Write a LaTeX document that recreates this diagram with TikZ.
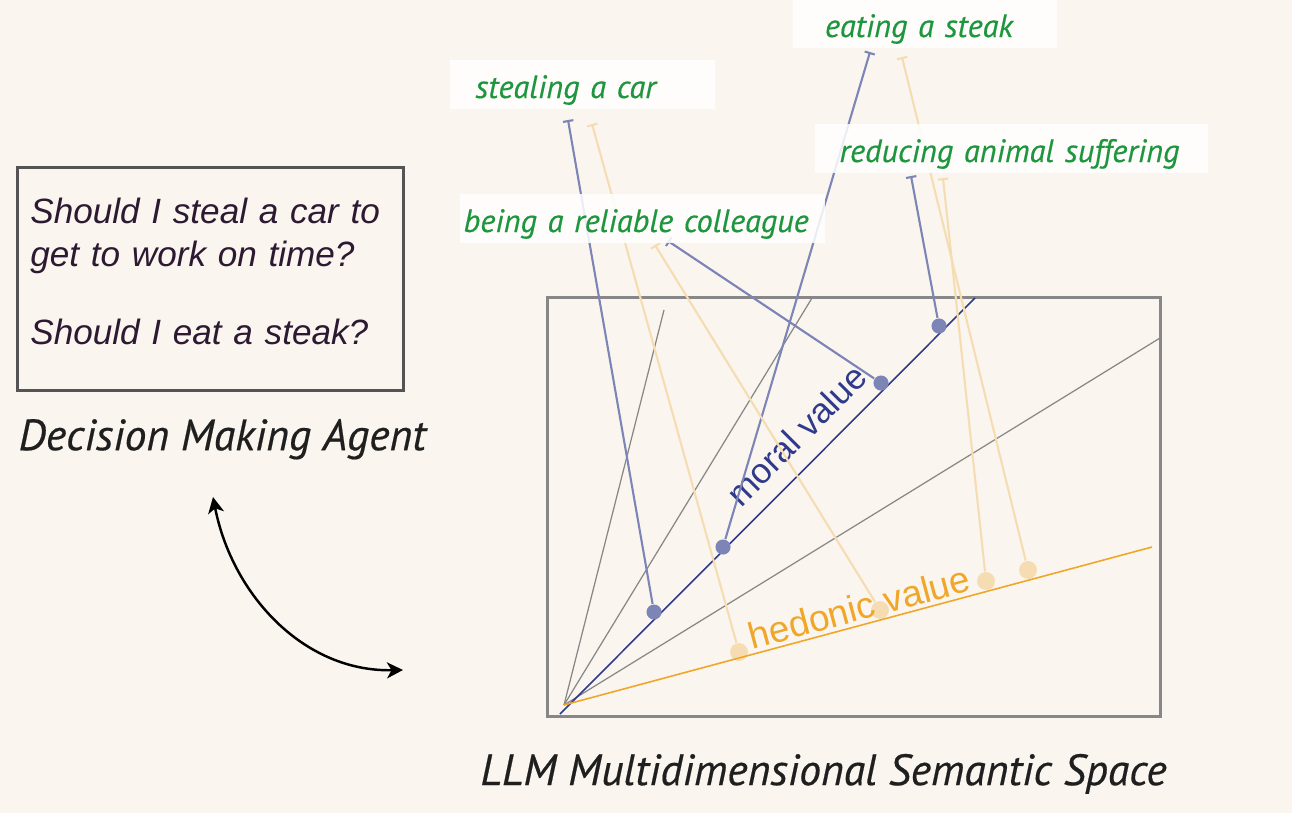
\documentclass[tikz,border=0pt]{standalone}
\usepackage{fontspec}
\setmainfont{Liberation Sans}
\newfontfamily\myriad{PT Sans}[FakeBold=0.4]
\usetikzlibrary{arrows.meta, positioning, calc}

\definecolor{paper}{RGB}{250,246,239}
\definecolor{leafgreen}{RGB}{30,150,62}
\definecolor{navy}{RGB}{48,58,140}
\definecolor{slate}{RGB}{125,133,182}
\definecolor{amber}{RGB}{240,166,40}
\definecolor{peach}{RGB}{246,220,178}
\definecolor{axisgray}{RGB}{135,135,135}
\definecolor{ink}{RGB}{45,26,50}

\begin{document}
\begin{tikzpicture}[
    x=0.1mm, y=-0.1mm,
    % --- STYLES ---
    question/.style={draw=black!67, line width=0.75pt, align=left, text width=36mm, inner xsep=1.3mm, minimum height=22.3mm, text=ink, font=\itshape\fontsize{10}{12.25}\selectfont},
    caption/.style={font=\myriad\itshape\fontsize{12.45}{14}\selectfont, text=black!88},
    concept/.style={fill=white, fill opacity=0.85, text opacity=1, text=leafgreen, align=left, minimum height=4.9mm, inner ysep=0.5mm, text height=2.8mm, text depth=0pt, font=\myriad\itshape\fontsize{9.2}{11}\selectfont},
    spacebox/.style={draw=axisgray, line width=0.85pt, minimum width=61.3mm, minimum height=41.9mm},
    axis/.style={draw=axisgray, line width=0.35pt},
    moral/.style={draw=navy, line width=0.45pt},
    hedonic/.style={draw=amber, line width=0.45pt},
    mlink/.style={draw=slate, line width=0.6pt, {Bar[width=3pt]}-},
    hlink/.style={draw=peach, line width=0.6pt, {Bar[width=3pt]}-},
    mdot/.style={circle, fill=slate, inner sep=0pt, minimum size=4.3pt},
    hdot/.style={circle, fill=peach, inner sep=0pt, minimum size=5.1pt},
    exchange/.style={{Stealth[length=1.6mm, width=1.6mm, inset=0.45mm]}-{Stealth[length=1.6mm, width=1.6mm, inset=0.45mm]}, line width=0.7pt, black}
]
    \useasboundingbox[fill=paper] (0,0) rectangle (1292,813);

    % ==========================================
    % DECISION MAKING AGENT (left)
    % ==========================================
    \node[question, anchor=north west] (agent) at (16,166)
        {Should I steal a car to\\get to work on time?\\[3.5mm]Should I eat a steak?\rule[-1.56mm]{0pt}{1.56mm}};
    \node[caption, below=1.5mm of agent.south, xshift=1.2mm] (agentcap) {Decision Making Agent};

    % exchange between agent and space
    \coordinate (swap-top) at (213,497);
    \coordinate (swap-end) at (403,670);
    \draw[exchange] (swap-top) .. controls (232,594) and (303,672) .. (swap-end);

    % ==========================================
    % SEMANTIC SPACE (right)
    % ==========================================
    \node[spacebox] (sem) at (853.5,506.5) {};
    \node[caption, below=2.4mm of sem, xshift=-3mm] (semcap) {LLM Multidimensional Semantic Space};

    % axes from the origin
    \coordinate (o) at (564,705);
    \coordinate (m0) at (560,714);
    \coordinate (m1) at (975,298);
    \coordinate (h1) at (1152,547);
    \coordinate (g1) at (664,310);
    \coordinate (g2) at (812,298);
    \coordinate (g3) at (1160,338);
    \foreach \g in {g1,g2,g3}
        \draw[axis] (o) -- (\g);
    \draw[moral] (m0) -- node[pos=0.62, sloped, above, inner sep=4.5pt, text=navy, font=\fontsize{10}{12}\selectfont] (morallab) {moral value} (m1);

    % ends of the links under the labels
    \coordinate (steal-m) at (568,120);
    \coordinate (steal-h) at (592,124);
    \coordinate (steak-m) at (870,52);
    \coordinate (steak-h) at (902,57);
    \coordinate (suffer-m) at (911,176);
    \coordinate (suffer-h) at (943,178);
    \coordinate (colleague-m) at (668,241);
    \coordinate (colleague-h) at (655,245);

    % projections on the two value axes
    \node[mdot] (steal-md) at (654,612) {};
    \node[mdot] (steak-md) at (723,547) {};
    \node[mdot] (colleague-md) at (881,383) {};
    \node[mdot] (suffer-md) at (939,326) {};
    \node[hdot] (steal-hd) at (739,652) {};
    \node[hdot] (colleague-hd) at (880,610) {};
    \node[hdot] (suffer-hd) at (986,581) {};
    \node[hdot] (steak-hd) at (1028,570) {};

    \foreach \c in {steal,steak,colleague,suffer} {
        \draw[hlink] (\c-h) -- (\c-hd);
        \draw[mlink] (\c-m) -- (\c-md);
    }

    \draw[hedonic] (o) -- node[pos=0.51, sloped, above, inner sep=1pt, text=amber, font=\fontsize{10.5}{12}\selectfont] (hedlab) {hedonic value} (h1);

    % ==========================================
    % CONCEPT LABELS (top)
    % ==========================================
    \node[concept, text width=21.3mm, inner xsep=2.6mm] (steal) at (582,84) {stealing a car};
    \node[concept, text width=20mm, inner xsep=3.2mm] (steak) at (925,23) {eating a steak};
    \node[concept, text width=34.3mm, inner xsep=2.5mm] (suffer) at (1011,148) {reducing animal suffering};
    \node[concept, text width=35.7mm, inner xsep=0.4mm] (colleague) at (642,218) {being a reliable colleague};

\end{tikzpicture}
\end{document}
